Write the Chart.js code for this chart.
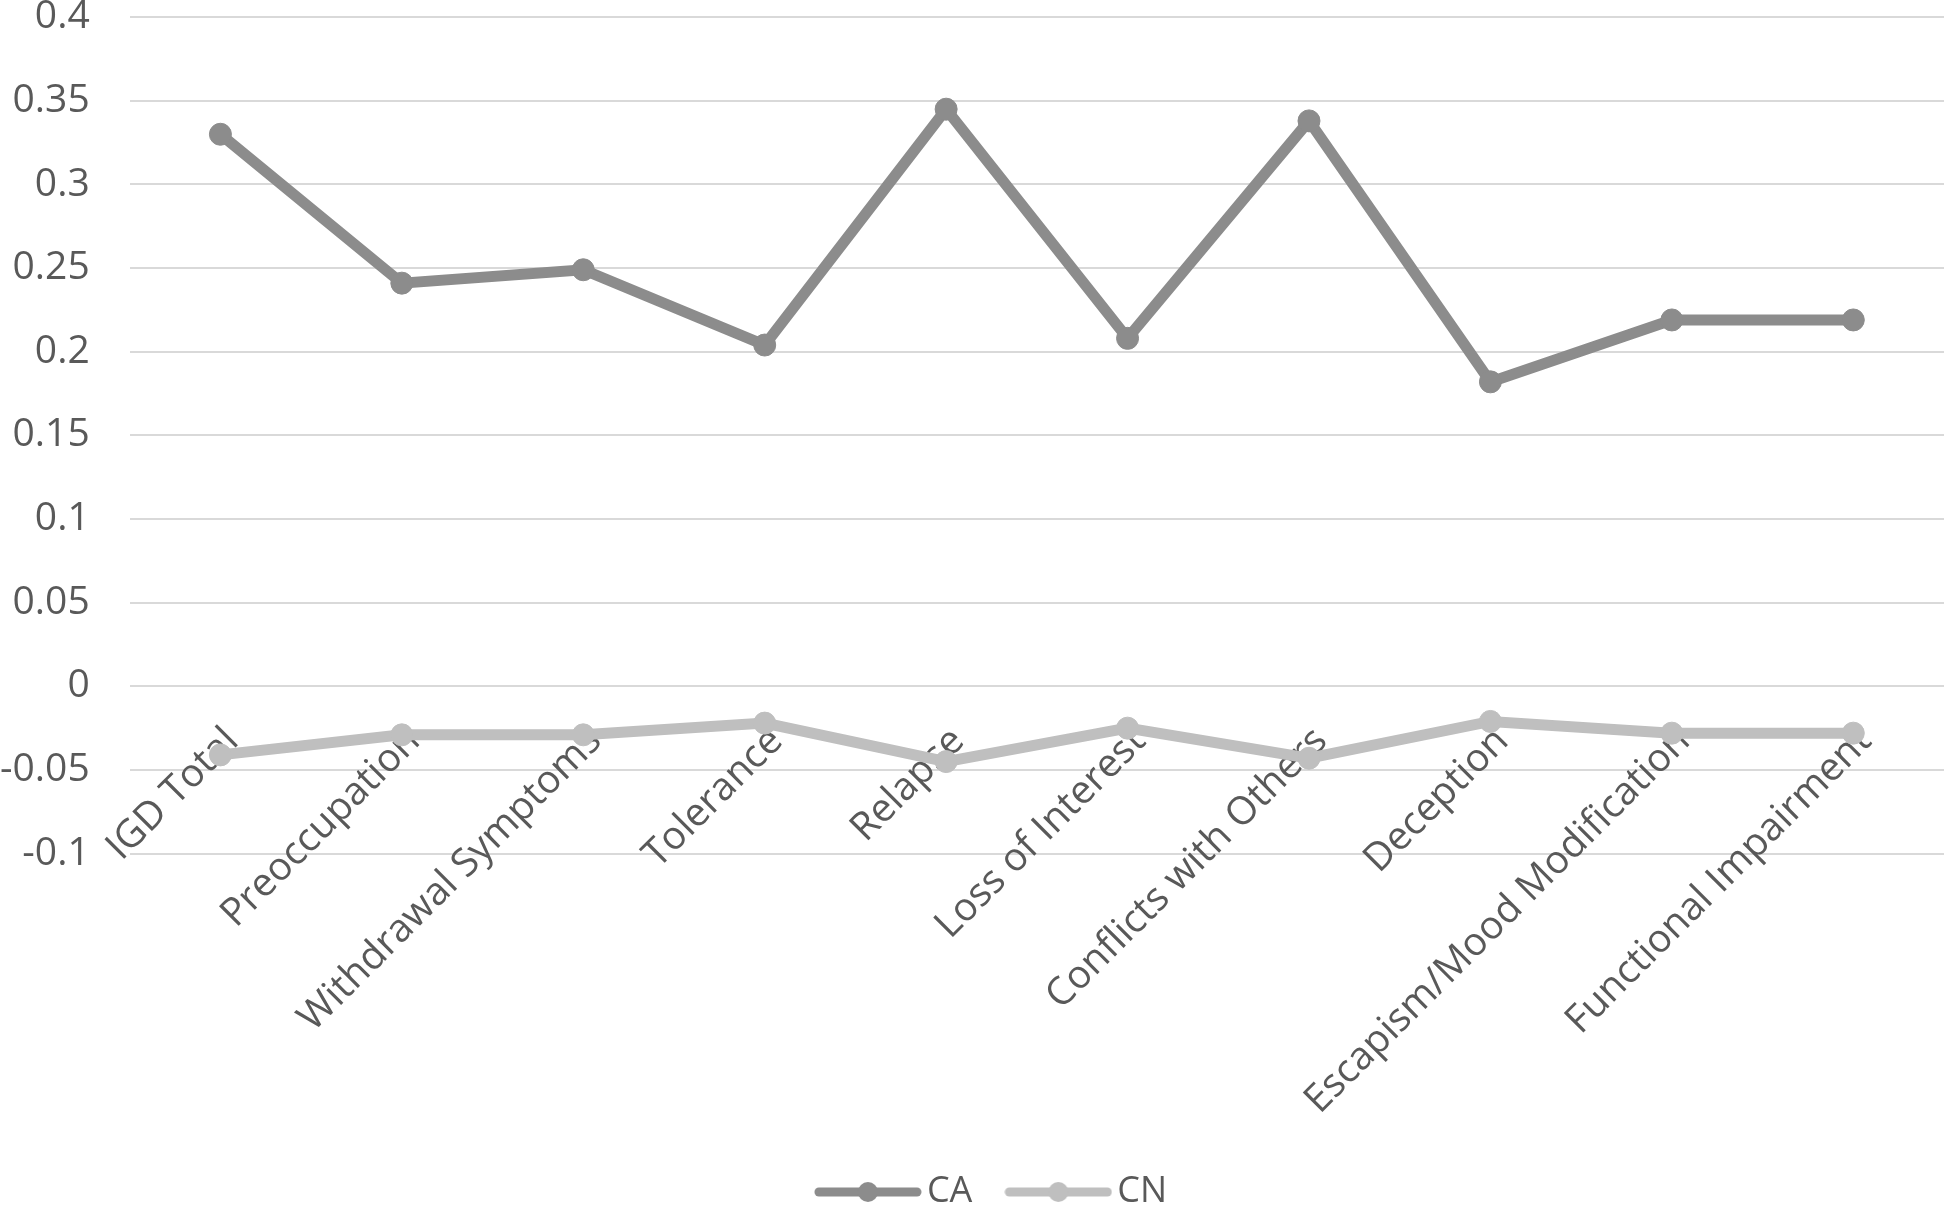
<!DOCTYPE html>
<html>
<head>
<meta charset="utf-8">
<script src="https://cdn.jsdelivr.net/npm/chart.js@4"></script>
<style>
  html, body { margin: 0; padding: 0; background: #ffffff; overflow: hidden; }
  #wrap { width: 1946px; height: 1206px; position: relative; overflow: hidden; }
  #c { display: block; }
</style>
</head>
<body>
<div id="wrap"><canvas id="c" width="1996" height="1206"></canvas></div>
<script>
const categories = ['IGD Total', 'Preoccupation', 'Withdrawal Symptoms', 'Tolerance', 'Relapse',
  'Loss of Interest', 'Conflicts with Others', 'Deception', 'Escapism/Mood Modification', 'Functional Impairment'];
const seriesNames = ['CA', 'CN'];
const caValues = [0.330, 0.241, 0.249, 0.204, 0.345, 0.208, 0.338, 0.182, 0.219, 0.219];
const cnValues = [-0.041, -0.029, -0.029, -0.022, -0.045, -0.025, -0.043, -0.021, -0.028, -0.028];
const yMin = -0.1, yMax = 0.4, yStep = 0.05;

const FONT = "'Open Sans', 'DejaVu Sans', sans-serif";
const TEXT = '#595959';
const caColor = '#8c8c8c';
const cnColor = '#bfbfbf';

// legend marker: a short line with a dot in the middle
function legendMarker(color) {
  const cv = document.createElement('canvas');
  cv.width = 108; cv.height = 24;
  const g = cv.getContext('2d');
  g.strokeStyle = color; g.lineWidth = 9; g.lineCap = 'round';
  g.beginPath(); g.moveTo(5, 12); g.lineTo(103, 12); g.stroke();
  g.fillStyle = color;
  g.beginPath(); g.arc(54, 12, 10, 0, Math.PI * 2); g.fill();
  return cv;
}
const markers = [legendMarker(caColor), legendMarker(cnColor)];

// the legend in the reference sits a little right of the canvas centre
const legendShift = {
  id: 'legendShift',
  afterLayout(chart) {
    if (chart.legend) { chart.legend.left += 25; chart.legend.right += 25; }
  }
};

new Chart(document.getElementById('c'), {
  type: 'line',
  data: {
    labels: categories,
    datasets: [
      { label: seriesNames[0], data: caValues, borderColor: caColor, backgroundColor: caColor,
        pointBackgroundColor: caColor, pointBorderColor: caColor, borderWidth: 11, pointRadius: 11, pointBorderWidth: 1, tension: 0 },
      { label: seriesNames[1], data: cnValues, borderColor: cnColor, backgroundColor: cnColor,
        pointBackgroundColor: cnColor, pointBorderColor: cnColor, borderWidth: 11, pointRadius: 11, pointBorderWidth: 1, tension: 0 }
    ]
  },
  plugins: [legendShift],
  options: {
    responsive: false,
    animation: false,
    layout: { padding: { left: 0, right: 52, top: 0, bottom: -14 } },
    scales: {
      x: {
        position: { y: 0 },
        offset: true,
        afterFit: (scale) => { scale.paddingRight = 0; scale.paddingLeft = 0; },
        grid: { display: true, drawOnChartArea: false, drawTicks: true, tickLength: 32, tickColor: 'rgba(0,0,0,0)', color: 'rgba(0,0,0,0)' },
        border: { display: false },
        ticks: {
          minRotation: 45, maxRotation: 45, autoSkip: false,
          color: TEXT, padding: 0, labelOffset: 12,
          font: { family: FONT, size: 39 }
        }
      },
      y: {
        min: yMin, max: yMax,
        grid: { color: '#d9d9d9', lineWidth: 2, drawTicks: true, tickLength: 40, tickColor: 'rgba(0,0,0,0)' },
        border: { display: false },
        ticks: {
          stepSize: yStep, color: TEXT, padding: 0,
          font: { family: FONT, size: 39, lineHeight: 0.88 },
          callback: (v) => String(Number(v.toFixed(2)))
        }
      }
    },
    plugins: {
      tooltip: { enabled: false },
      legend: {
        position: 'bottom',
        title: { display: true, text: '', padding: { top: 0, bottom: 261 } },
        labels: {
          color: TEXT, font: { family: FONT, size: 36 },
          usePointStyle: true, pointStyleWidth: 82, padding: 45,
          generateLabels: (chart) => {
            const items = Chart.defaults.plugins.legend.labels.generateLabels(chart);
            items.forEach((it, i) => { it.pointStyle = markers[i]; });
            return items;
          }
        }
      }
    }
  }
});
</script>
</body>
</html>
